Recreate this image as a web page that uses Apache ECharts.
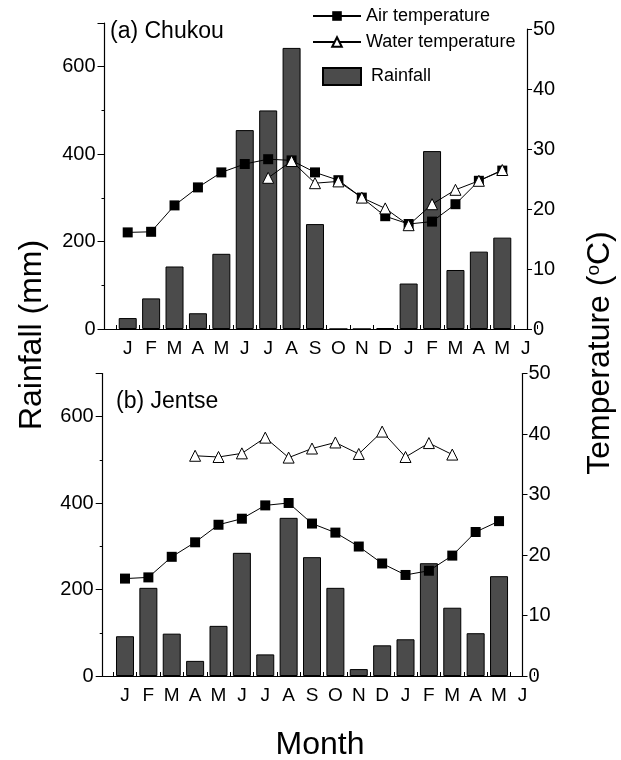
<!DOCTYPE html>
<html>
<head>
<meta charset="utf-8">
<script src="https://cdn.jsdelivr.net/npm/echarts@6/dist/echarts.min.js"></script>
<style>
  html, body { margin: 0; padding: 0; background: #fff; }
  #chart { width: 621px; height: 760px; }
</style>
</head>
<body>
<div id="chart"></div>
<script>
// month labels, Jan of one year to Jun of the next
var months = ['J', 'F', 'M', 'A', 'M', 'J', 'J', 'A', 'S', 'O', 'N', 'D', 'J', 'F', 'M', 'A', 'M', 'J'];

// (a) Chukou
var rainChukou = [25, 70, 143, 36, 172, 455, 500, 643, 240, 0, 0, 2, 104, 407, 135, 177, 209, null];
var airChukou = [16.1, 16.2, 20.6, 23.6, 26.1, 27.5, 28.3, 28.1, 26.1, 24.8, 21.9, 18.8, 17.5, 17.9, 20.8, 24.7, 26.4, null];
var waterChukou = [null, null, null, null, null, null, 25.2, 28.0, 24.3, 24.6, 21.9, 20.1, 17.3, 20.8, 23.2, 24.7, 26.5, null];

// (b) Jentse
var rainJentse = [92, 204, 98, 35, 116, 285, 50, 366, 275, 204, 16, 71, 85, 261, 158, 99, 231, null];
var airJentse = [16.1, 16.3, 19.7, 22.1, 25.0, 26.0, 28.2, 28.6, 25.2, 23.7, 21.4, 18.6, 16.7, 17.4, 19.9, 23.8, 25.6, null];
var waterJentse = [null, null, null, 36.4, 36.2, 36.8, 39.4, 36.1, 37.6, 38.6, 36.7, 40.4, 36.2, 38.5, 36.6, null, null, null];

var rainTicks = [0, 200, 400, 600];
var tempTicks = [0, 10, 20, 30, 40, 50];

var FONT = 'Liberation Sans';
var chart = echarts.init(document.getElementById('chart'), null, { renderer: 'canvas' });

// frame axis with only the baseline
function frameX(grid) {
    return {
        type: 'value', gridIndex: grid, min: 0, max: 1,
        axisLine: { show: true, onZero: false, lineStyle: { color: '#000', width: 1.2 } },
        axisTick: { show: false }, axisLabel: { show: false }, splitLine: { show: false }
    };
}
function monthX(grid) {
    return {
        type: 'category', gridIndex: grid, data: months, boundaryGap: true,
        axisLine: { show: false, onZero: false },
        axisTick: { show: true, inside: true, length: 4, interval: 0, lineStyle: { color: '#000' } },
        axisLabel: { interval: 0, margin: 10, color: '#000', fontSize: 19, fontFamily: FONT },
        splitLine: { show: false }
    };
}
function rainY(grid) {
    return {
        type: 'value', gridIndex: grid, position: 'left', min: 0, max: 700, interval: 200,
        axisLine: { show: true, onZero: false, lineStyle: { color: '#000', width: 1.2 } },
        axisTick: { show: true, length: 7, lineStyle: { color: '#000' } },
        minorTick: { show: true, splitNumber: 2, length: 3, lineStyle: { color: '#000' } },
        axisLabel: {
            margin: 9, color: '#000', fontSize: 20, fontFamily: FONT,
            formatter: function (v) { return rainTicks.indexOf(v) >= 0 ? String(v) : ''; }
        },
        splitLine: { show: false }
    };
}
function hiddenRainY(grid, max) {
    return { type: 'value', gridIndex: grid, min: 0, max: max, show: false, splitLine: { show: false } };
}
function tempY(grid, offset) {
    return {
        type: 'value', gridIndex: grid, position: 'right', offset: offset, min: 0, max: 50, interval: 10,
        axisLine: { show: true, onZero: false, lineStyle: { color: '#000', width: 1.2 } },
        axisTick: { show: true, length: 5, lineStyle: { color: '#000' } },
        axisLabel: {
            margin: 6, color: '#000', fontSize: 20, fontFamily: FONT,
            formatter: function (v) { return tempTicks.indexOf(v) >= 0 ? String(v) : ''; }
        },
        splitLine: { show: false }
    };
}

function barSeries(x, y, data) {
    return {
        name: 'Rainfall', type: 'bar', xAxisIndex: x, yAxisIndex: y, data: data, barWidth: 18,
        itemStyle: { color: '#4b4b4b', borderColor: '#000', borderWidth: 1 }, z: 2
    };
}
function airSeries(x, y, data) {
    return {
        name: 'Air temperature', type: 'line', xAxisIndex: x, yAxisIndex: y, data: data,
        symbol: 'rect', symbolSize: 10, showAllSymbol: true,
        itemStyle: { color: '#000' }, lineStyle: { color: '#000', width: 1 }, z: 4
    };
}
function waterSeries(x, y, data) {
    return {
        name: 'Water temperature', type: 'line', xAxisIndex: x, yAxisIndex: y, data: data,
        symbol: 'triangle', symbolSize: 11, showAllSymbol: true,
        itemStyle: { color: '#fff', borderColor: '#000', borderWidth: 1 },
        lineStyle: { color: '#000', width: 1 }, z: 5
    };
}

var option = {
    backgroundColor: '#fff',
    animation: false,
    textStyle: { fontFamily: FONT },
    title: [
        { text: '(a) Chukou', left: 110, top: 20, padding: 0,
          textStyle: { fontSize: 23, fontWeight: 'normal', color: '#000', fontFamily: FONT } },
        { text: '(b) Jentse', left: 116, top: 390, padding: 0,
          textStyle: { fontSize: 23, fontWeight: 'normal', color: '#000', fontFamily: FONT } }
    ],
    legend: [
        { data: ['Air temperature', 'Water temperature'], orient: 'vertical', left: 312, top: 7,
          padding: 0, itemWidth: 48, itemHeight: 12, itemGap: 8,
          textStyle: { fontSize: 18, color: '#000', fontFamily: FONT, lineHeight: 18 } },
        { data: ['Rainfall'], left: 322, top: 67, padding: 0, itemWidth: 38, itemHeight: 17,
          icon: 'rect', textStyle: { fontSize: 18, color: '#000', fontFamily: FONT, padding: [0, 0, 0, 5] } }
    ],
    grid: [
        { left: 104.5, top: 23, width: 422.5, height: 306, outerBoundsMode: 'none' },
        { left: 116, top: 29, width: 421.4, height: 300, outerBoundsMode: 'none' },
        { left: 102.7, top: 373.5, width: 419.8, height: 302.5, outerBoundsMode: 'none' },
        { left: 113.3, top: 373.5, width: 420.8, height: 302.5, outerBoundsMode: 'none' }
    ],
    xAxis: [frameX(0), monthX(1), frameX(2), monthX(3)],
    yAxis: [
        rainY(0),
        hiddenRainY(1, 700 * 300 / 306),
        tempY(1, -10.4),
        rainY(2),
        hiddenRainY(3, 700),
        tempY(3, -11.6)
    ],
    graphic: [
        { type: 'text', x: 32, y: 335, rotation: Math.PI / 2,
          style: { text: 'Rainfall (mm)', font: '32px "Liberation Sans"', fill: '#000',
                   align: 'center', verticalAlign: 'middle' } },
        { type: 'text', x: 600, y: 353, rotation: Math.PI / 2,
          style: { text: 'Temperature ({sup|o}C)', font: '32px "Liberation Sans"', fill: '#000',
                   align: 'center', verticalAlign: 'middle',
                   rich: { sup: { fontSize: 19, fontFamily: FONT, verticalAlign: 'top', lineHeight: 32, padding: [0, 0, 10, 0] } } } },
        { type: 'text', x: 320, y: 745,
          style: { text: 'Month', font: '32px "Liberation Sans"', fill: '#000',
                   align: 'center', verticalAlign: 'middle' } }
    ],
    series: [
        barSeries(1, 1, rainChukou),
        airSeries(1, 2, airChukou),
        waterSeries(1, 2, waterChukou),
        barSeries(3, 4, rainJentse),
        airSeries(3, 5, airJentse),
        waterSeries(3, 5, waterJentse)
    ]
};

chart.setOption(option);
</script>
</body>
</html>
